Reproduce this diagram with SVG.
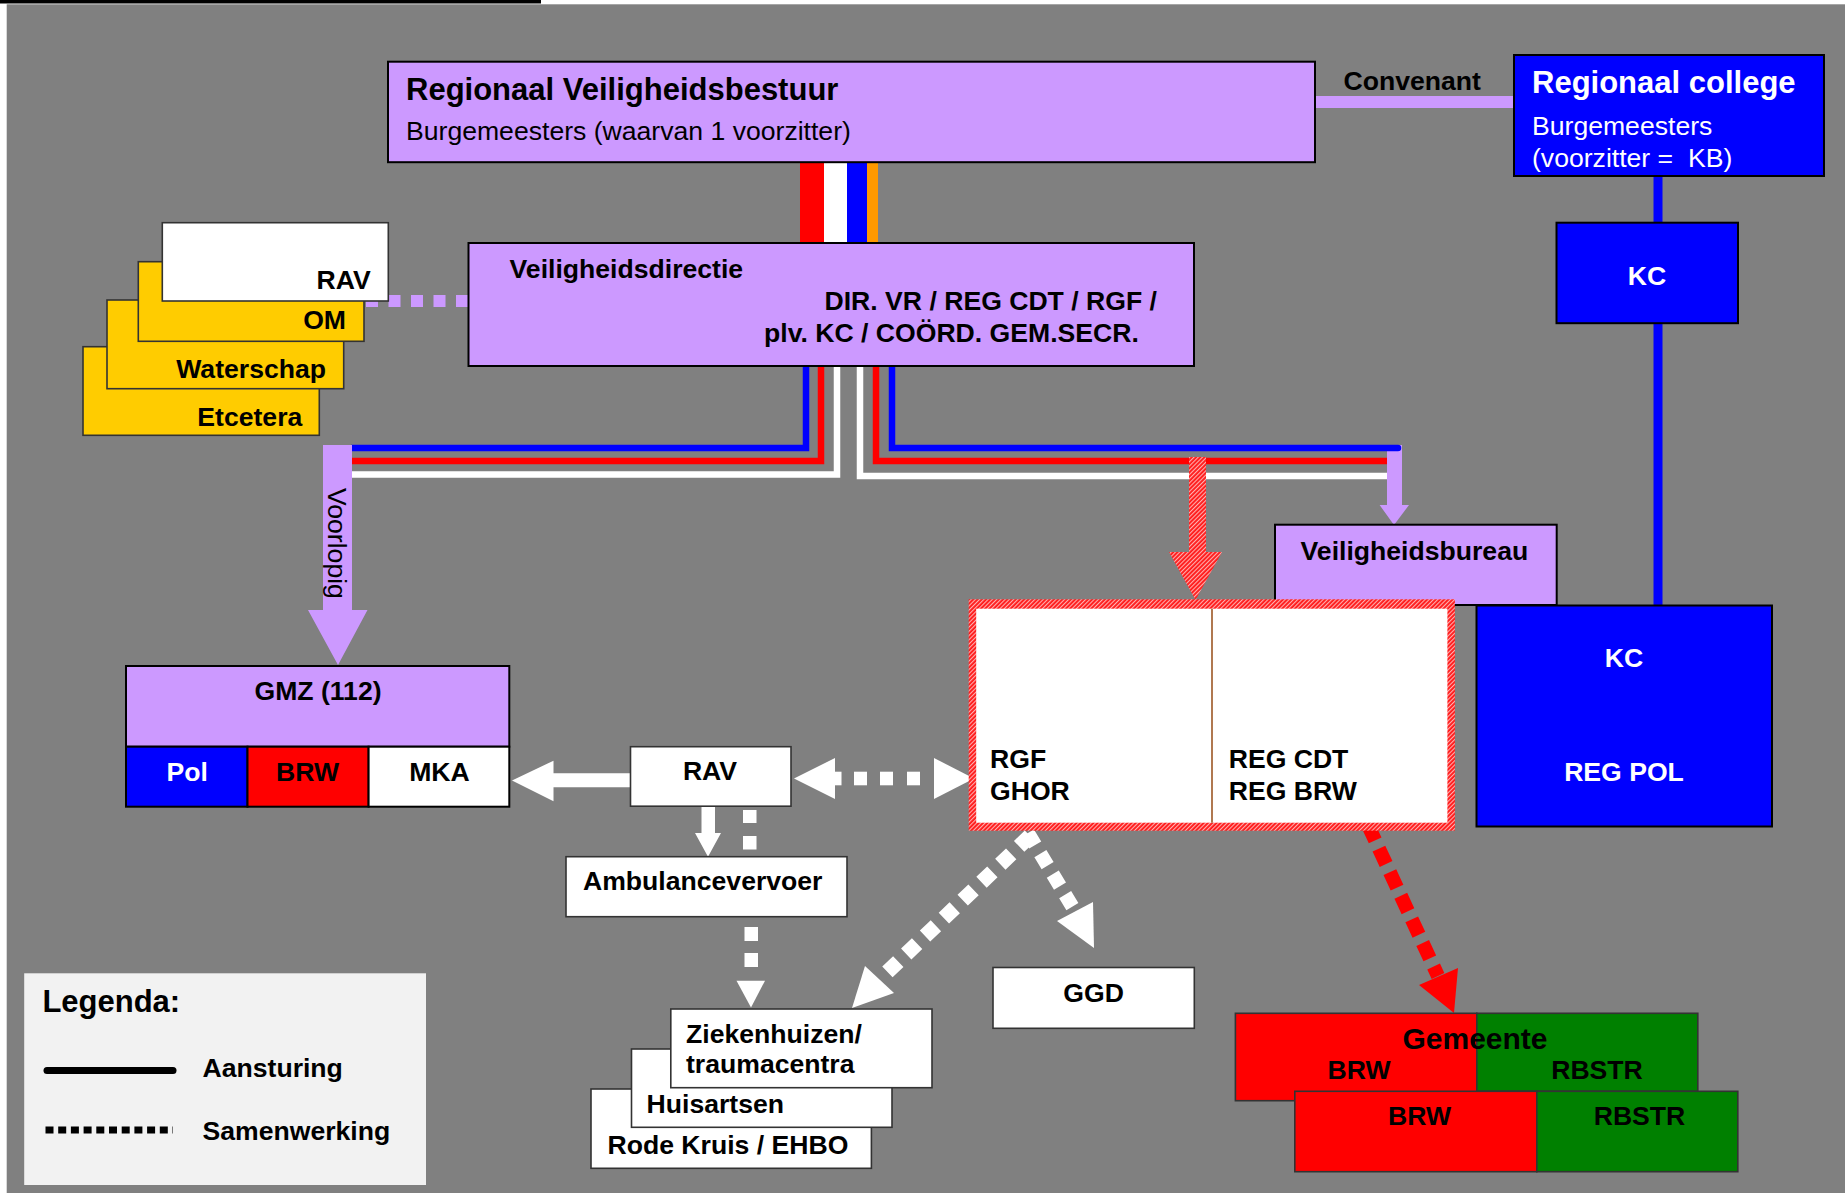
<svg xmlns="http://www.w3.org/2000/svg" width="1845" height="1193" viewBox="0 0 1845 1193">
<defs>
<style>
text{font-family:'Liberation Sans',Arial,Helvetica,sans-serif;fill:#000}
.b{font-weight:bold;font-size:26.6px}
.big{font-weight:bold;font-size:31px}
.n{font-size:26.6px}
.w{fill:#fff}
.c{text-anchor:middle}
.e{text-anchor:end}
.bx{stroke:#000;stroke-width:2}
.sb{stroke:#333;stroke-width:1.6}
.lav{fill:#CC99FF}
.blu{fill:#0000FF}
.yel{fill:#FFCC00}
.red{fill:#FF0000}
.grn{fill:#008000}
.wh{fill:#FFFFFF}
.ln{fill:none;stroke-width:6.5;stroke-linejoin:miter}
</style>
<pattern id="hatch" width="3" height="3" patternUnits="userSpaceOnUse" patternTransform="rotate(45)">
<rect width="3" height="3" fill="#FF1A1A"/>
<rect width="1.1" height="3" fill="#FFB0B0"/>
</pattern>
</defs>
<rect width="1845" height="1193" fill="#fff"/>
<rect x="0" y="0" width="541" height="3.5" fill="#000"/>
<rect x="6.7" y="4.3" width="1838.3" height="1188.7" fill="#808080"/>

<g id="connectors">
<rect x="1315" y="96" width="199" height="12" class="lav"/>
<rect x="800" y="162" width="24" height="81" class="red"/>
<rect x="824" y="162" width="23" height="81" class="wh"/>
<rect x="847" y="162" width="20" height="81" class="blu"/>
<rect x="867" y="162" width="11" height="81" fill="#FF9900"/>
<rect x="1653.5" y="176" width="9" height="430" class="blu"/>
<line x1="468" y1="301" x2="330" y2="301" stroke="#CC99FF" stroke-width="12" stroke-dasharray="12 10.5"/>
<polyline class="ln" stroke="#0000FF" points="806,366 806,448 351,448"/>
<polyline class="ln" stroke="#FF0000" points="821,366 821,461 351,461"/>
<polyline class="ln" stroke="#FFFFFF" points="837,366 837,474.5 351,474.5"/>
<polyline class="ln" stroke="#FFFFFF" points="860,366 860,476 1388,476"/>
<polyline class="ln" stroke="#FF0000" points="876,366 876,461 1388,461"/>
<path d="M323,445 H352 V610 H367.5 L338,665 L308,610 H323 Z" class="lav"/>
<path d="M1387,445 H1402 V505 H1409 L1394,525 L1379.6,505 H1387 Z" class="lav"/>
<polyline class="ln" stroke="#0000FF" stroke-linecap="round" points="892,366 892,448 1398,448"/>
<path d="M1189,457 H1206 V552 H1222 L1195.5,600 L1169,552 H1189 Z" fill="url(#hatch)"/>
<path d="M630.5,773.3 H553.5 V760.7 L512,780.5 L553.5,801.3 V787.3 H630.5 Z" class="wh"/>
<polygon points="794,778.5 835,758 835,799" class="wh"/>
<rect x="835" y="771.7" width="6.5" height="13.6" class="wh"/>
<rect x="854" y="771.7" width="13" height="13.6" class="wh"/>
<rect x="880" y="771.7" width="13" height="13.6" class="wh"/>
<rect x="907" y="771.7" width="13" height="13.6" class="wh"/>
<polygon points="974,778.5 934,758 934,799" class="wh"/>
<path d="M701.5,806 H715 V833 H721 L708,856.7 L695,833 H701.5 Z" class="wh"/>
<rect x="743" y="810" width="13.5" height="13" class="wh"/>
<rect x="743" y="836" width="13.5" height="13.5" class="wh"/>
<rect x="744.5" y="927" width="13.5" height="14" class="wh"/>
<rect x="744.5" y="953" width="13.5" height="14" class="wh"/>
<polygon points="736.5,980.7 765,980.7 751,1007.5" class="wh"/>
<line x1="1030" y1="836" x2="880" y2="979" stroke="#fff" stroke-width="15" stroke-dasharray="15 11"/>
<polygon points="852,1008 865,966 894,993" class="wh"/>
<line x1="1028" y1="833" x2="1075" y2="911" stroke="#fff" stroke-width="14" stroke-dasharray="14 10"/>
<polygon points="1094,948 1057,921 1093,902" class="wh"/>
<line x1="1368" y1="825" x2="1438" y2="976" stroke="#FF0000" stroke-width="14" stroke-dasharray="17 9"/>
<polygon points="1454,1013 1419,985 1458,968" class="red"/>
</g>

<g id="rvb">
<rect x="388" y="61.7" width="927" height="100.5" class="lav bx"/>
<text x="406" y="100" class="big">Regionaal Veiligheidsbestuur</text>
<text x="406" y="140" class="n">Burgemeesters (waarvan 1 voorzitter)</text>
</g>
<text x="1343.5" y="90" class="b">Convenant</text>
<g id="rc">
<rect x="1514" y="55" width="310" height="121" class="blu bx"/>
<text x="1532" y="93" class="big w">Regionaal college</text>
<text x="1532" y="135" class="n w">Burgemeesters</text>
<text x="1532" y="166.7" class="n w" style="white-space:pre">(voorzitter =  KB)</text>
</g>
<g id="kc">
<rect x="1556.5" y="222.7" width="181.5" height="100.5" class="blu bx"/>
<text x="1647" y="285" class="b w c">KC</text>
</g>
<g id="vd">
<rect x="468.5" y="243" width="725.5" height="123" class="lav bx"/>
<text x="509.6" y="278" class="b">Veiligheidsdirectie</text>
<text x="824.5" y="310" class="b">DIR. VR / REG CDT / RGF /</text>
<text x="764" y="342" class="b">plv. KC / COÖRD. GEM.SECR.</text>
</g>
<g id="stack">
<rect x="83" y="346.7" width="236.3" height="88.6" class="yel sb"/>
<text x="302.3" y="425.7" class="b e">Etcetera</text>
<rect x="107" y="300" width="236.7" height="88.7" class="yel sb"/>
<text x="326" y="378" class="b e">Waterschap</text>
<rect x="138.3" y="261.7" width="225.7" height="79.6" class="yel sb"/>
<text x="346" y="329" class="b e">OM</text>
<rect x="162.3" y="222.7" width="226" height="78.3" class="wh sb"/>
<text x="370.7" y="289.3" class="b e">RAV</text>
</g>
<text transform="translate(328,488) rotate(90)" class="n">Voorlopig</text>
<g id="vb">
<rect x="1275" y="524.7" width="281.7" height="80.3" class="lav bx"/>
<text x="1300.6" y="560" class="b">Veiligheidsbureau</text>
</g>
<g id="kcregpol">
<rect x="1476.5" y="605.5" width="295.5" height="221" class="blu bx"/>
<text x="1624" y="666.7" class="b w c">KC</text>
<text x="1624" y="780.7" class="b w c">REG POL</text>
</g>
<g id="rgf">
<rect x="968.7" y="599.3" width="486.2" height="231.4" fill="url(#hatch)"/>
<rect x="976.2" y="608.7" width="471.2" height="214" class="wh"/>
<line x1="1212" y1="608.7" x2="1212" y2="822.7" stroke="#B07850" stroke-width="2"/>
<text x="990" y="768.3" class="b">RGF</text>
<text x="990" y="800" class="b">GHOR</text>
<text x="1228.7" y="768.3" class="b">REG CDT</text>
<text x="1228.7" y="800" class="b">REG BRW</text>
</g>
<g id="gmz">
<rect x="126" y="666" width="383.3" height="80.7" class="lav bx"/>
<text x="318" y="700" class="b c">GMZ (112)</text>
<rect x="126" y="746.7" width="121.5" height="60" class="blu bx"/>
<rect x="247.5" y="746.7" width="121.1" height="60" class="red bx"/>
<rect x="368.6" y="746.7" width="140.7" height="60" class="wh bx"/>
<text x="187.2" y="781" class="b w c">Pol</text>
<text x="307.5" y="781" class="b c">BRW</text>
<text x="439.5" y="781" class="b c">MKA</text>
</g>
<g id="rav">
<rect x="630.5" y="746.7" width="160.5" height="59.5" class="wh sb"/>
<text x="710" y="780" class="b c">RAV</text>
</g>
<g id="ambulance">
<rect x="566" y="856.7" width="281" height="60" class="wh sb"/>
<text x="583" y="890" class="b">Ambulancevervoer</text>
</g>
<g id="zorg">
<rect x="591" y="1089" width="280.4" height="79.3" class="wh sb"/>
<text x="607.5" y="1154" class="b">Rode Kruis / EHBO</text>
<rect x="631.5" y="1049" width="260.5" height="78.3" class="wh sb"/>
<text x="646.6" y="1113.3" class="b">Huisartsen</text>
<rect x="670.8" y="1009" width="261.2" height="78.7" class="wh sb"/>
<text x="686" y="1043.3" class="b">Ziekenhuizen/</text>
<text x="686" y="1073.3" class="b">traumacentra</text>
</g>
<g id="ggd">
<rect x="993" y="967.5" width="201.3" height="60.8" class="wh sb"/>
<text x="1093.6" y="1002.3" class="b c">GGD</text>
</g>
<g id="gemeente">
<rect x="1235.4" y="1013.3" width="241.4" height="87.4" class="red sb"/>
<rect x="1476.8" y="1013.3" width="221" height="78" class="grn sb"/>
<rect x="1294.8" y="1091.3" width="242" height="80.4" class="red sb"/>
<rect x="1536.8" y="1091.3" width="201" height="80.4" class="grn sb"/>
<text x="1475" y="1049" class="c" style="font-weight:bold;font-size:30px">Gemeente</text>
<text x="1359" y="1079.3" class="b c">BRW</text>
<text x="1597" y="1079.3" class="b c">RBSTR</text>
<text x="1419.5" y="1125.3" class="b c">BRW</text>
<text x="1639.5" y="1125.3" class="b c">RBSTR</text>
</g>
<g id="legenda">
<rect x="24.2" y="973.3" width="401.8" height="211.7" fill="#F2F2F2"/>
<text x="42.4" y="1011.7" class="big">Legenda:</text>
<line x1="47" y1="1070.5" x2="173" y2="1070.5" stroke="#000" stroke-width="7" stroke-linecap="round"/>
<text x="202.5" y="1076.7" class="b">Aansturing</text>
<line x1="45.5" y1="1130" x2="173" y2="1130" stroke="#000" stroke-width="7" stroke-dasharray="8 4.7"/>
<text x="202.5" y="1140" class="b">Samenwerking</text>
</g>
</svg>
